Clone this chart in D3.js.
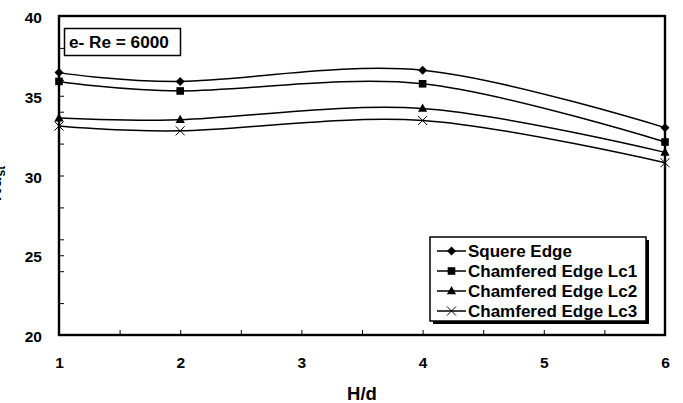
<!DOCTYPE html>
<html>
<head>
<meta charset="utf-8">
<script src="https://cdn.jsdelivr.net/npm/d3@7"></script>
<style>
  html, body { margin: 0; padding: 0; background: #fff; }
  svg { display: block; font-family: "Liberation Sans", Arial, sans-serif; font-weight: bold; }
</style>
</head>
<body>
<svg id="chart" width="683" height="403"></svg>
<script>
// H/d positions where Nu_st was measured
const hd = [1, 2, 4, 6];

// Stanton-number based Nusselt values for each edge shape
const squareEdge = [36.45, 35.9, 36.6, 33.0];
const chamferLc1 = [35.9, 35.3, 35.75, 32.1];
const chamferLc2 = [33.6, 33.5, 34.2, 31.45];
const chamferLc3 = [33.1, 32.8, 33.45, 30.8];

const seriesNames = ["Squere Edge", "Chamfered Edge Lc1", "Chamfered Edge Lc2", "Chamfered Edge Lc3"];
const seriesMarkers = ["diamond", "square", "triangle", "cross"];

const xTickValues = [1, 2, 3, 4, 5, 6];
const xMinorTicks = [1.5, 2.5, 3.5, 4.5, 5.5];
const yTickValues = [20, 25, 30, 35, 40];
const yMinorTicks = [22, 24, 26, 28, 32, 34, 36, 38];

const annotation = "e- Re = 6000";

const svg = d3.select("#chart");
const margin = { left: 59, right: 18, top: 16, bottom: 68 };
const W = 683, H = 403;

const x = d3.scaleLinear().domain([1, 6]).range([margin.left, W - margin.right]);
const y = d3.scaleLinear().domain([20, 40]).range([H - margin.bottom, margin.top]);

const plotL = x(1), plotR = x(6), plotT = y(40), plotB = y(20);

// Ticks pointing into the plot
const tickLen = 5;
const yAxis = d3.axisLeft(y).tickValues(yTickValues).tickSize(-tickLen).tickPadding(tickLen + 12).tickFormat(d3.format("d"));
const gy = svg.append("g").attr("transform", `translate(${plotL},0)`).call(yAxis);
gy.select(".domain").remove();
gy.selectAll("text").attr("font-size", 15.5).attr("fill", "#000").attr("dy", "0.42em");
gy.selectAll("line").attr("stroke", "#000").attr("stroke-width", 1);

const yMinor = d3.axisLeft(y).tickValues(yMinorTicks).tickSize(-tickLen).tickFormat("");
const gym = svg.append("g").attr("transform", `translate(${plotL},0)`).call(yMinor);
gym.select(".domain").remove();
gym.selectAll("line").attr("stroke", "#000").attr("stroke-width", 1);

const xAxis = d3.axisBottom(x).tickValues(xTickValues).tickSize(-tickLen).tickPadding(tickLen + 17).tickFormat(d3.format("d"));
const gx = svg.append("g").attr("transform", `translate(0,${plotB})`).call(xAxis);
gx.select(".domain").remove();
gx.selectAll("text").attr("font-size", 15.5).attr("fill", "#000");
gx.selectAll("line").attr("stroke", "#000").attr("stroke-width", 1);

const xMinor = d3.axisBottom(x).tickValues(xMinorTicks).tickSize(-tickLen).tickFormat("");
const gxm = svg.append("g").attr("transform", `translate(0,${plotB})`).call(xMinor);
gxm.select(".domain").remove();
gxm.selectAll("line").attr("stroke", "#000").attr("stroke-width", 1);

// Plot frame
svg.append("rect")
  .attr("x", plotL).attr("y", plotT)
  .attr("width", plotR - plotL).attr("height", plotB - plotT)
  .attr("fill", "none").attr("stroke", "#000").attr("stroke-width", 2.4);

// Axis titles
svg.append("text")
  .attr("x", (plotL + plotR) / 2).attr("y", 400)
  .attr("text-anchor", "middle").attr("font-size", 18.5)
  .text("H/d");

// Vertical title sits against the left edge of the page
const yTitle = svg.append("text")
  .attr("transform", `translate(1,${(plotT + plotB) / 2 + 8}) rotate(-90)`)
  .attr("text-anchor", "middle").attr("font-size", 18.5);
yTitle.append("tspan").text("Nu");
yTitle.append("tspan").attr("font-size", 12).attr("dy", 4).text("st");

// Smoothed series curves
const data = [squareEdge, chamferLc1, chamferLc2, chamferLc3];
const line = d3.line()
  .x((d, i) => x(hd[i]))
  .y(d => y(d))
  .curve(d3.curveCardinal.tension(0));

const series = svg.append("g");
data.forEach(vals => {
  series.append("path")
    .attr("d", line(vals))
    .attr("fill", "none").attr("stroke", "#000").attr("stroke-width", 1.5);
});

function drawMarker(g, type, cx, cy) {
  if (type === "diamond") {
    g.append("path").attr("d", `M${cx},${cy - 4.5}L${cx + 4.5},${cy}L${cx},${cy + 4.5}L${cx - 4.5},${cy}Z`).attr("fill", "#000");
  } else if (type === "square") {
    g.append("rect").attr("x", cx - 3.8).attr("y", cy - 3.8).attr("width", 7.6).attr("height", 7.6).attr("fill", "#000");
  } else if (type === "triangle") {
    g.append("path").attr("d", `M${cx},${cy - 5}L${cx + 4.6},${cy + 3.3}L${cx - 4.6},${cy + 3.3}Z`).attr("fill", "#000");
  } else {
    g.append("path").attr("d", `M${cx - 4.5},${cy - 4.5}L${cx + 4.5},${cy + 4.5}M${cx - 4.5},${cy + 4.5}L${cx + 4.5},${cy - 4.5}`)
      .attr("stroke", "#000").attr("stroke-width", 1);
  }
}

const markers = svg.append("g");
data.forEach((vals, s) => {
  vals.forEach((v, i) => drawMarker(markers, seriesMarkers[s], x(hd[i]), y(v)));
});

// Annotation box
const ann = svg.append("g");
ann.append("rect").attr("x", 64.5).attr("y", 28.5).attr("width", 116).attr("height", 27)
  .attr("fill", "#fff").attr("stroke", "#000").attr("stroke-width", 1.5);
ann.append("text").attr("x", 69).attr("y", 48).attr("font-size", 17.2).text(annotation);

// Legend with drop shadow
const lg = svg.append("g");
const lx = 430, ly = 237, lw = 216, lh = 84;
lg.append("rect").attr("x", lx + 3).attr("y", ly + 3).attr("width", lw).attr("height", lh).attr("fill", "#000");
lg.append("rect").attr("x", lx).attr("y", ly).attr("width", lw).attr("height", lh)
  .attr("fill", "#fff").attr("stroke", "#000").attr("stroke-width", 1.5);
seriesNames.forEach((name, s) => {
  const cy = 251 + s * 20;
  lg.append("line").attr("x1", 437).attr("x2", 466).attr("y1", cy).attr("y2", cy)
    .attr("stroke", "#000").attr("stroke-width", 1.5);
  drawMarker(lg, seriesMarkers[s], 451.5, cy);
  lg.append("text").attr("x", 468).attr("y", cy + 6).attr("font-size", 17).text(name);
});
</script>
</body>
</html>
